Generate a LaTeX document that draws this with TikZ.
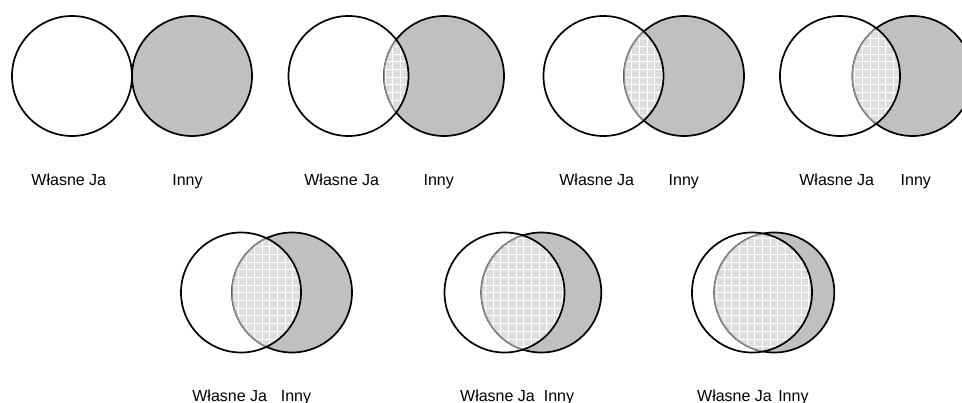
\documentclass[tikz,border=0pt]{standalone}
\usepackage{fontspec}
\setmainfont{Liberation Sans}
\usepackage{tikz}
\usetikzlibrary{calc}
\definecolor{innyfill}{HTML}{C0C0C0}
\definecolor{wspfill}{HTML}{DEDEDE}
\definecolor{wspline}{HTML}{8C8C8C}

\begin{document}
\begin{tikzpicture}[
  x=1pt, y=-1pt,
  font=\fontsize{16}{19}\selectfont,
  krag/.style={draw=black, line width=1.7pt},
  siatka/.style={draw=white, line width=0.5pt},
  lbl/.style={anchor=base, inner sep=0pt}
]
  \useasboundingbox (0,0) rectangle (962,403);
  % n / srodek Ja / srodek Inny / y kol / x napisu Ja / x napisu Inny / linia bazowa
  \foreach \n/\sx/\ix/\cy/\jx/\nx/\by in {
      1/72/192/76/68.8/187.5/185.5,
      2/348.5/444/76/341.7/438.7/185.5,
      3/603.5/684/76/596.7/683.8/185.5,
      4/840/912.5/76/836.7/915.8/185.5,
      5/241/292/292.5/229.7/296/401.5,
      6/504.5/541.3/292.5/497.5/559/401.5,
      7/752/774.3/292.5/734.5/793.4/401.5}{
    % Inny
    \fill[innyfill] (\ix,\cy) circle (60);
    \draw[krag] (\ix,\cy) circle (60);
    % czesc wspolna
    \begin{scope}
      \clip (\sx,\cy) circle (60);
      \fill[wspfill] (\ix,\cy) circle (60);
      \begin{scope}
        \clip (\ix,\cy) circle (60);
        \draw[siatka, step=7.7pt] (\ix-62,\cy-62) grid (\ix+62,\cy+62);
      \end{scope}
      \draw[wspline, line width=1.5pt] (\ix,\cy) circle (60);
    \end{scope}
    % Wlasne Ja
    \draw[krag] (\sx,\cy) circle (60);
    % podpisy
    \node[lbl] (ja\n) at (\jx,\by) {Własne Ja};
    \node[lbl] (inny\n) at (\nx,\by) {Inny};
  }
\end{tikzpicture}
\end{document}
